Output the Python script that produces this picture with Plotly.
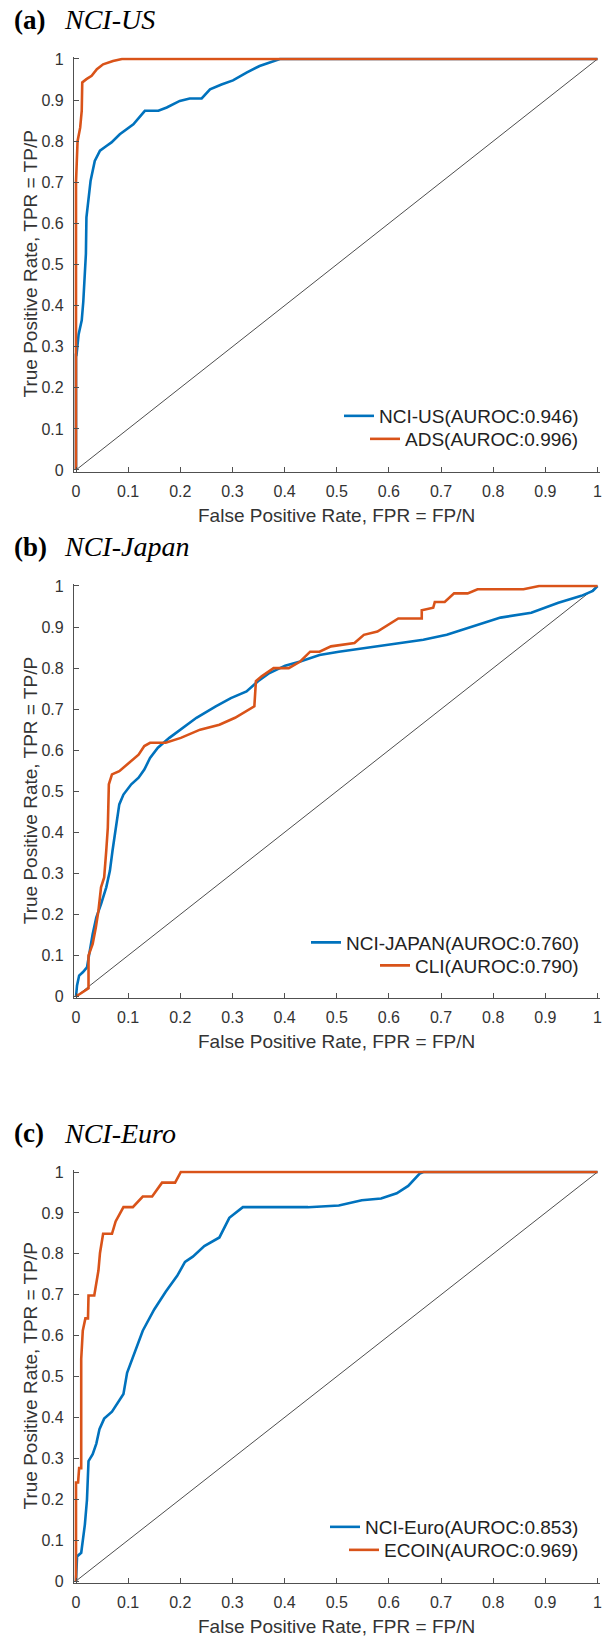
import plotly.graph_objects as go

# ---------------- data ----------------
tick_vals = [0, 0.1, 0.2, 0.3, 0.4, 0.5, 0.6, 0.7, 0.8, 0.9, 1.0]
tick_text = ["0", "0.1", "0.2", "0.3", "0.4", "0.5", "0.6", "0.7", "0.8", "0.9", "1"]

panel_letters = ["(a)", "(b)", "(c)"]
panel_names = ["NCI-US", "NCI-Japan", "NCI-Euro"]
series_names_blue = ["NCI-US(AUROC:0.946)", "NCI-JAPAN(AUROC:0.760)", "NCI-Euro(AUROC:0.853)"]
series_names_orange = ["ADS(AUROC:0.996)", "CLI(AUROC:0.790)", "ECOIN(AUROC:0.969)"]

diag_x = [0, 1]
diag_y = [0, 1]

a_nci_fpr = [0, 0, 0.001, 0.005, 0.011, 0.014, 0.017, 0.019, 0.020, 0.024, 0.028, 0.036, 0.046, 0.059, 0.068,
             0.084, 0.110, 0.132, 0.158, 0.174, 0.199, 0.218, 0.241, 0.257, 0.279, 0.301, 0.327, 0.352, 0.375,
             0.391, 1.0]
a_nci_tpr = [0, 0.28, 0.28, 0.33, 0.364, 0.41, 0.478, 0.526, 0.615, 0.663, 0.704, 0.752, 0.777, 0.789, 0.797,
             0.817, 0.841, 0.874, 0.874, 0.882, 0.898, 0.904, 0.904, 0.926, 0.938, 0.948, 0.967, 0.983, 0.993,
             1.0, 1.0]
a_ads_fpr = [0, 0, 0.003, 0.008, 0.011, 0.012, 0.02, 0.03, 0.04, 0.052, 0.071, 0.088, 1.0]
a_ads_tpr = [0, 0.70, 0.80, 0.833, 0.874, 0.943, 0.951, 0.959, 0.975, 0.987, 0.995, 1.0, 1.0]

b_nci_fpr = [0, 0.002, 0.006, 0.013, 0.021, 0.026, 0.032, 0.039, 0.048, 0.058, 0.065, 0.070, 0.076, 0.083,
             0.091, 0.106, 0.120, 0.131, 0.142, 0.157, 0.179, 0.201, 0.231, 0.268, 0.297, 0.327, 0.349, 0.371,
             0.401, 0.430, 0.467, 0.504, 0.556, 0.615, 0.666, 0.711, 0.770, 0.814, 0.873, 0.925, 0.969, 0.991, 1.0]
b_nci_tpr = [0, 0.027, 0.051, 0.059, 0.071, 0.112, 0.152, 0.193, 0.225, 0.266, 0.306, 0.355, 0.411, 0.468,
             0.492, 0.517, 0.533, 0.553, 0.581, 0.606, 0.630, 0.650, 0.679, 0.707, 0.727, 0.743, 0.768, 0.788,
             0.806, 0.816, 0.832, 0.840, 0.849, 0.861, 0.869, 0.881, 0.905, 0.923, 0.935, 0.959, 0.976, 0.988, 1.0]
b_cli_fpr = [0, 0.024, 0.024, 0.032, 0.038, 0.043, 0.048, 0.054, 0.058, 0.061, 0.063, 0.069, 0.083, 0.106,
             0.120, 0.131, 0.142, 0.172, 0.201, 0.238, 0.275, 0.305, 0.327, 0.342, 0.345, 0.356, 0.379, 0.408,
             0.430, 0.449, 0.467, 0.489, 0.534, 0.552, 0.578, 0.618, 0.663, 0.663, 0.685, 0.688, 0.707, 0.725,
             0.751, 0.770, 0.858, 0.888, 1.0]
b_cli_tpr = [0, 0.02, 0.10, 0.128, 0.168, 0.209, 0.266, 0.29, 0.355, 0.411, 0.517, 0.541, 0.549, 0.573,
             0.589, 0.61, 0.618, 0.618, 0.63, 0.65, 0.662, 0.679, 0.695, 0.707, 0.768, 0.78, 0.80, 0.80,
             0.816, 0.84, 0.84, 0.853, 0.861, 0.881, 0.889, 0.921, 0.921, 0.941, 0.947, 0.961, 0.961, 0.982,
             0.982, 0.992, 0.992, 1.0, 1.0]

c_nci_fpr = [0, 0.002, 0.010, 0.013, 0.017, 0.021, 0.024, 0.032, 0.039, 0.045, 0.054, 0.069, 0.083, 0.091,
             0.098, 0.113, 0.128, 0.150, 0.172, 0.194, 0.209, 0.224, 0.246, 0.275, 0.294, 0.320, 0.371, 0.445,
             0.504, 0.548, 0.585, 0.615, 0.637, 0.659, 0.666, 1.0]
c_nci_tpr = [0, 0.060, 0.069, 0.095, 0.138, 0.198, 0.293, 0.310, 0.336, 0.371, 0.397, 0.414, 0.440, 0.457,
             0.509, 0.560, 0.612, 0.664, 0.707, 0.746, 0.780, 0.793, 0.819, 0.840, 0.888, 0.914, 0.914, 0.914,
             0.918, 0.931, 0.935, 0.948, 0.966, 0.996, 1.0, 1.0]
c_ecoin_fpr = [0, 0, 0.004, 0.006, 0.010, 0.010, 0.013, 0.018, 0.023, 0.024, 0.035, 0.043, 0.046, 0.052,
               0.069, 0.076, 0.091, 0.109, 0.128, 0.146, 0.165, 0.190, 0.201, 1.0]
c_ecoin_tpr = [0, 0.241, 0.241, 0.276, 0.276, 0.543, 0.612, 0.642, 0.642, 0.698, 0.698, 0.759, 0.802, 0.849,
               0.849, 0.879, 0.914, 0.914, 0.940, 0.940, 0.974, 0.974, 1.0, 1.0]

blue_series = [(a_nci_fpr, a_nci_tpr), (b_nci_fpr, b_nci_tpr), (c_nci_fpr, c_nci_tpr)]
orange_series = [(a_ads_fpr, a_ads_tpr), (b_cli_fpr, b_cli_tpr), (c_ecoin_fpr, c_ecoin_tpr)]

# ---------------- layout geometry (pixels) ----------------
W, H = 603, 1638
X0, X1 = 76, 597.5
panels_px = [(59.0, 470.0), (586.0, 996.5), (1172.0, 1581.0)]
PAD = 0.004
BLUE = "#0072BD"
ORANGE = "#D95319"
AX_COL = "#505050"
TXT_COL = "#333333"
SANS = "Liberation Sans, Arial, sans-serif"
SERIF = "Liberation Serif, Times New Roman, serif"

fig = go.Figure()
layout = dict(width=W, height=H, autosize=False, margin=dict(l=0, r=0, t=0, b=0),
              paper_bgcolor="white", plot_bgcolor="white", showlegend=True)
annotations = []

xunit = X1 - X0
xdom = [(X0 - PAD * xunit) / W, (X1 + PAD * xunit) / W]

for i, (top, bot) in enumerate(panels_px):
    n = i + 1
    xa = "x" if n == 1 else f"x{n}"
    ya = "y" if n == 1 else f"y{n}"
    yunit = bot - top
    ydom = [1 - (bot + PAD * yunit) / H, 1 - (top - PAD * yunit) / H]
    axis_common = dict(range=[-PAD, 1 + PAD], tickmode="array", tickvals=tick_vals, ticktext=tick_text,
                       showline=True, linecolor=AX_COL, linewidth=1, ticks="inside", ticklen=5,
                       tickcolor=AX_COL, tickwidth=1, showgrid=False, zeroline=False, mirror=False,
                       automargin=False, fixedrange=True,
                       tickfont=dict(family=SANS, size=16, color=TXT_COL))
    layout["xaxis" if n == 1 else f"xaxis{n}"] = dict(axis_common, domain=xdom, anchor=ya, ticklabelstandoff=5)
    layout["yaxis" if n == 1 else f"yaxis{n}"] = dict(axis_common, domain=ydom, anchor=xa, ticklabelstandoff=6)

    lg1 = "legend" if n == 1 else f"legend{2 * n - 1}"
    lg2 = f"legend{2 * n}"

    fig.add_trace(go.Scatter(x=diag_x, y=diag_y, mode="lines", line=dict(color="black", width=0.7),
                             showlegend=False, xaxis=xa, yaxis=ya, hoverinfo="skip"))
    bx, by = blue_series[i]
    fig.add_trace(go.Scatter(x=bx, y=by, mode="lines", name=series_names_blue[i],
                             line=dict(color=BLUE, width=2.6), xaxis=xa, yaxis=ya, legend=lg1))
    ox, oy = orange_series[i]
    fig.add_trace(go.Scatter(x=ox, y=oy, mode="lines", name=series_names_orange[i],
                             line=dict(color=ORANGE, width=2.6), xaxis=xa, yaxis=ya, legend=lg2))

    leg_common = dict(xanchor="right", yanchor="middle", bgcolor="rgba(0,0,0,0)", borderwidth=0,
                      font=dict(family=SANS, size=19, color="#222222"), x=584 / W)
    layout[lg1] = dict(leg_common, y=1 - (bot - 54) / H)
    layout[lg2] = dict(leg_common, y=1 - (bot - 31) / H)

    # panel title
    cy = 1 - (top - 39) / H
    annotations.append(dict(text=f"<b>{panel_letters[i]}</b>", x=12 / W, y=cy, xref="paper", yref="paper",
                            xanchor="left", yanchor="middle", showarrow=False,
                            font=dict(family=SERIF, size=27, color="black")))
    annotations.append(dict(text=f"<i>{panel_names[i]}</i>", x=62 / W, y=cy, xref="paper", yref="paper",
                            xanchor="left", yanchor="middle", showarrow=False,
                            font=dict(family=SERIF, size=28, color="black")))
    # axis titles
    annotations.append(dict(text="True Positive Rate, TPR = TP/P", x=30 / W, y=1 - ((top + bot) / 2) / H,
                            xref="paper", yref="paper", xanchor="center", yanchor="middle", textangle=-90,
                            showarrow=False, font=dict(family=SANS, size=19, color=TXT_COL)))
    annotations.append(dict(text="False Positive Rate, FPR = FP/N", x=((X0 + X1) / 2) / W,
                            y=1 - (bot + 45) / H, xref="paper", yref="paper", xanchor="center",
                            yanchor="middle", showarrow=False, font=dict(family=SANS, size=19, color=TXT_COL)))

layout["annotations"] = annotations
fig.update_layout(**layout)
fig.write_html("out.html", config={"displayModeBar": False},
               post_script="document.body.style.margin='0';document.body.style.padding='0';"
                           "document.body.style.overflow='hidden';"
                           "document.documentElement.style.overflow='hidden';")
